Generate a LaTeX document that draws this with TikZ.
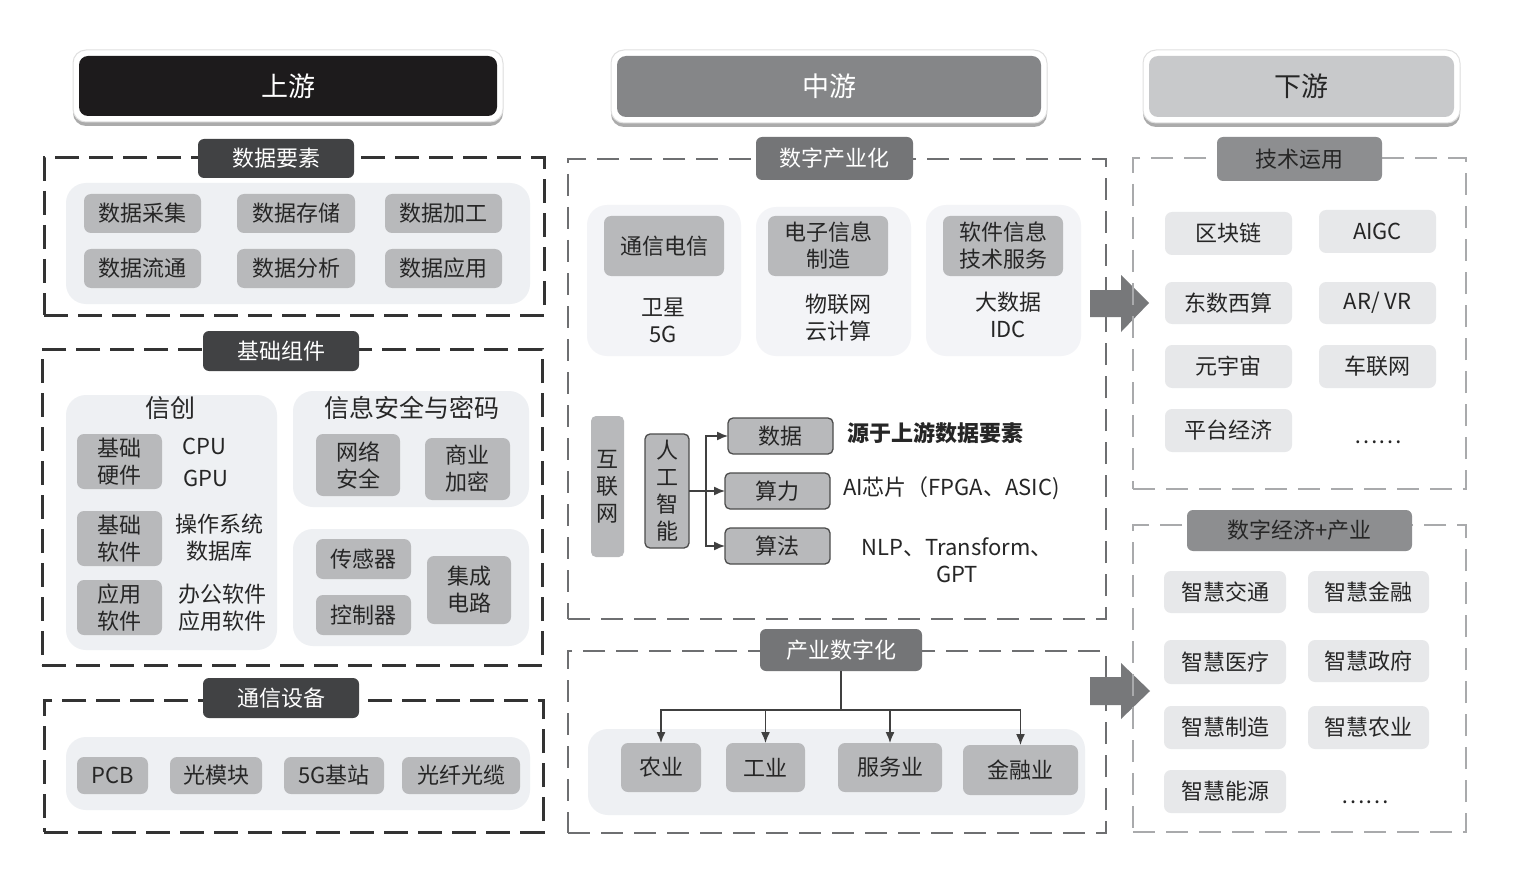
\documentclass[tikz,border=0pt]{standalone}
\usepackage{fontspec}
\setmainfont{Noto Sans CJK SC}
\usetikzlibrary{arrows.meta,shadows}
\definecolor{hblack}{HTML}{1D1B1C}
\definecolor{hmid}{HTML}{858688}
\definecolor{hlight}{HTML}{C8C9CB}
\definecolor{lbldark}{HTML}{414244}
\definecolor{lblmid}{HTML}{747577}
\definecolor{lbllight}{HTML}{8D8E90}
\definecolor{itemgray}{HTML}{B8B9BB}
\definecolor{panel}{HTML}{EEF0F3}
\definecolor{ritem}{HTML}{E7E8EA}
\definecolor{txt}{HTML}{262626}
\definecolor{dashL}{HTML}{333333}
\definecolor{dashM}{HTML}{6E6F71}
\definecolor{dashR}{HTML}{A9AAAC}
\definecolor{arrowgray}{HTML}{77787A}
\newcommand\fs[2]{\fontsize{#1}{#2}\selectfont}
\newcommand\bx[7]{\node[#1, minimum width={#5-#3}, minimum height={#6-#4}] (#2) at ({(#3+#5)/2},{(#4+#6)/2}) {#7};}
\begin{document}
\begin{tikzpicture}[x=1pt,y=-1pt,
  base/.style={inner sep=0pt, outer sep=0pt, align=center},
  frame/.style={base, fill=white, draw=black!12, line width=1pt, rounded corners=13,
    drop shadow={shadow xshift=0pt, shadow yshift=-4pt, opacity=0.5, fill=black!65}},
  hdr/.style={base, rounded corners=9, font=\fs{27}{32}},
  dboxL/.style={base, draw=dashL, line width=3pt, dash pattern=on 24pt off 10pt},
  dboxM/.style={base, draw=dashM, line width=2.6pt, dash pattern=on 22pt off 11pt},
  dboxR/.style={base, draw=dashR, line width=2.4pt, dash pattern=on 22pt off 11pt},
  lbl/.style={base, rounded corners=6, font=\fs{22}{26}},
  pnl/.style={base, fill=panel, rounded corners=20},
  item/.style={base, fill=itemgray, rounded corners=7, text=txt, font=\fs{22}{27}},
  oitem/.style={item, draw=black!70, line width=1.3pt, rounded corners=5},
  ritm/.style={base, fill=ritem, rounded corners=7, text=txt, font=\fs{22}{27}},
  plain/.style={base, text=txt, font=\fs{22}{27}},
  conn/.style={draw=black!75, line width=1.4pt},
  tip/.style={-{Latex[length=11pt,width=9pt]}}
]
\useasboundingbox[fill=white] (0,0) rectangle (1522,877);

% ---------------- headers ----------------
\bx{frame}{fU}{73}{50}{503}{122}{}
\bx{hdr, fill=hblack, text=white}{hU}{79}{56}{497}{116}{上游}
\bx{frame}{fM}{611}{50}{1047}{123}{}
\bx{hdr, fill=hmid, text=white}{hM}{617}{56}{1041}{117}{中游}
\bx{frame}{fD}{1143}{50}{1460}{123}{}
\bx{hdr, fill=hlight, text=txt}{hD}{1149}{56}{1454}{117}{下游}

% ---------------- upstream: 数据要素 ----------------
\bx{dboxL}{d1}{44}{158}{544}{315}{}
\bx{lbl, fill=lbldark, text=white}{l1}{198}{139}{354}{178}{数据要素}
\bx{pnl}{p1}{66}{183}{530}{304}{}
\bx{item}{a1}{84}{194}{201}{233}{数据采集}
\bx{item}{a2}{237}{194}{355}{233}{数据存储}
\bx{item}{a3}{385}{194}{502}{233}{数据加工}
\bx{item}{a4}{84}{249}{201}{288}{数据流通}
\bx{item}{a5}{237}{249}{355}{288}{数据分析}
\bx{item}{a6}{385}{249}{502}{288}{数据应用}

% ---------------- upstream: 基础组件 ----------------
\bx{dboxL}{d2}{42}{349}{542}{665}{}
\bx{lbl, fill=lbldark, text=white}{l2}{203}{331}{359}{371}{基础组件}
\bx{pnl}{p2}{66}{395}{277}{650}{}
\node[plain, font=\fs{25}{30}] (xc) at (170,408) {信创};
\bx{item}{b1}{77}{434}{162}{489}{基础\\硬件}
\node[plain] (cpu) at (204,446) {CPU};
\node[plain] (gpu) at (206,478) {GPU};
\bx{item}{b2}{77}{511}{162}{566}{基础\\软件}
\node[plain] (os) at (219,538) {操作系统\\数据库};
\bx{item}{b3}{77}{580}{162}{635}{应用\\软件}
\node[plain] (app) at (222,608) {办公软件\\应用软件};
\bx{pnl}{p3}{293}{391}{529}{507}{}
\node[plain, font=\fs{25}{30}] (sec) at (412,408) {信息安全与密码};
\bx{item}{c1}{316}{434}{400}{496}{网络\\安全}
\bx{item}{c2}{425}{438}{510}{500}{商业\\加密}
\bx{pnl}{p4}{293}{529}{529}{646}{}
\bx{item}{c3}{316}{539}{411}{579}{传感器}
\bx{item}{c4}{316}{595}{411}{635}{控制器}
\bx{item}{c5}{427}{556}{511}{624}{集成\\电路}

% ---------------- upstream: 通信设备 ----------------
\bx{dboxL}{d3}{44}{700}{543}{832}{}
\bx{lbl, fill=lbldark, text=white}{l3}{203}{678}{359}{718}{通信设备}
\bx{pnl}{p5}{66}{737}{530}{810}{}
\bx{item}{e1}{77}{757}{148}{794}{PCB}
\bx{item}{e2}{170}{757}{262}{794}{光模块}
\bx{item}{e3}{284}{757}{384}{794}{5G基站}
\bx{item}{e4}{402}{757}{520}{794}{光纤光缆}

% ---------------- midstream: 数字产业化 ----------------
\bx{dboxM}{d4}{568}{159}{1106}{619}{}
\bx{lbl, fill=lblmid, text=white}{l4}{756}{137}{913}{180}{数字产业化}
\bx{pnl, fill=panel!70}{q1}{587}{205}{741}{356}{}
\bx{pnl, fill=panel!70}{q2}{756}{207}{911}{356}{}
\bx{pnl, fill=panel!70}{q3}{926}{205}{1081}{356}{}
\bx{item}{m1}{604}{216}{724}{276}{通信电信}
\bx{item}{m2}{768}{216}{888}{276}{电子信息\\制造}
\bx{item}{m3}{943}{216}{1063}{276}{软件信息\\技术服务}
\node[plain] (t1) at (663,320) {卫星\\5G};
\node[plain] (t2) at (838,318) {物联网\\云计算};
\node[plain] (t3) at (1008,315) {大数据\\IDC};

\bx{item, rounded corners=5}{net}{591}{416}{624}{557}{互\\联\\网}
\bx{oitem}{ai}{645}{434}{689}{548}{人\\工\\智\\能}
\bx{oitem}{k1}{728}{418}{833}{454}{数据}
\bx{oitem}{k2}{725}{473}{830}{509}{算力}
\bx{oitem}{k3}{725}{528}{830}{564}{算法}
\coordinate (aj) at (706,491);
\draw[conn] (ai.east) -- (aj);
\draw[conn, tip] (aj) |- (k1.west);
\draw[conn, tip] (aj) -- (k2.west);
\draw[conn, tip] (aj) |- (k3.west);
\node[plain, font=\bfseries\fs{22}{27}, anchor=west] (s1) at (847,433) {源于上游数据要素};
\node[plain, anchor=west] (s2) at (843,488) {AI芯片（FPGA、ASIC)};
\node[plain] (s3) at (957,560) {NLP、Transform、\\GPT};

% ---------------- midstream: 产业数字化 ----------------
\bx{dboxM}{d5}{568}{651}{1106}{833}{}
\bx{lbl, fill=lblmid, text=white}{l5}{760}{629}{922}{671}{产业数字化}
\bx{pnl}{p6}{588}{729}{1085}{815}{}
\bx{item}{n1}{621}{743}{701}{792}{农业}
\bx{item}{n2}{726}{743}{805}{792}{工业}
\bx{item}{n3}{838}{743}{942}{792}{服务业}
\bx{item}{n4}{963}{745}{1078}{795}{金融业}
\coordinate (tj) at (841,710);
\draw[conn] (l5.south) -- (tj);
\draw[conn, tip] (tj) -| (n1.north);
\draw[conn, tip] (tj) -| (n2.north);
\draw[conn, tip] (tj) -| (n3.north);
\draw[conn, tip] (tj) -| (n4.north);

% ---------------- block arrows ----------------
\fill[arrowgray] (1090,290) -- (1121,290) -- (1121,275) -- (1149,303) -- (1121,332) -- (1121,317) -- (1090,317) -- cycle;
\fill[arrowgray] (1090,677) -- (1121,677) -- (1121,663) -- (1150,691) -- (1121,719) -- (1121,705) -- (1090,705) -- cycle;

% ---------------- downstream: 技术运用 ----------------
\bx{dboxR}{d6}{1133}{158}{1466}{489}{}
\bx{lbl, fill=lbllight, text=txt}{l6}{1217}{137}{1382}{181}{技术运用}
\bx{ritm}{r1}{1165}{212}{1292}{255}{区块链}
\bx{ritm}{r2}{1319}{210}{1436}{253}{AIGC}
\bx{ritm}{r3}{1165}{282}{1292}{324}{东数西算}
\bx{ritm}{r4}{1319}{282}{1436}{324}{AR/ VR}
\bx{ritm}{r5}{1165}{345}{1292}{388}{元宇宙}
\bx{ritm}{r6}{1319}{345}{1436}{388}{车联网}
\bx{ritm}{r7}{1165}{409}{1292}{452}{平台经济}
\node[plain] (r8) at (1378,442) {……};

% ---------------- downstream: 数字经济+产业 ----------------
\bx{dboxR}{d7}{1133}{525}{1466}{832}{}
\bx{lbl, fill=lbllight, text=txt}{l7}{1187}{510}{1412}{551}{数字经济+产业}
\bx{ritm}{w1}{1164}{571}{1286}{613}{智慧交通}
\bx{ritm}{w2}{1308}{571}{1429}{613}{智慧金融}
\bx{ritm}{w3}{1164}{640}{1286}{684}{智慧医疗}
\bx{ritm}{w4}{1308}{640}{1429}{682}{智慧政府}
\bx{ritm}{w5}{1164}{706}{1286}{749}{智慧制造}
\bx{ritm}{w6}{1308}{706}{1429}{749}{智慧农业}
\bx{ritm}{w7}{1164}{770}{1286}{813}{智慧能源}
\node[plain] (w8) at (1365,802) {……};
\end{tikzpicture}
\end{document}
